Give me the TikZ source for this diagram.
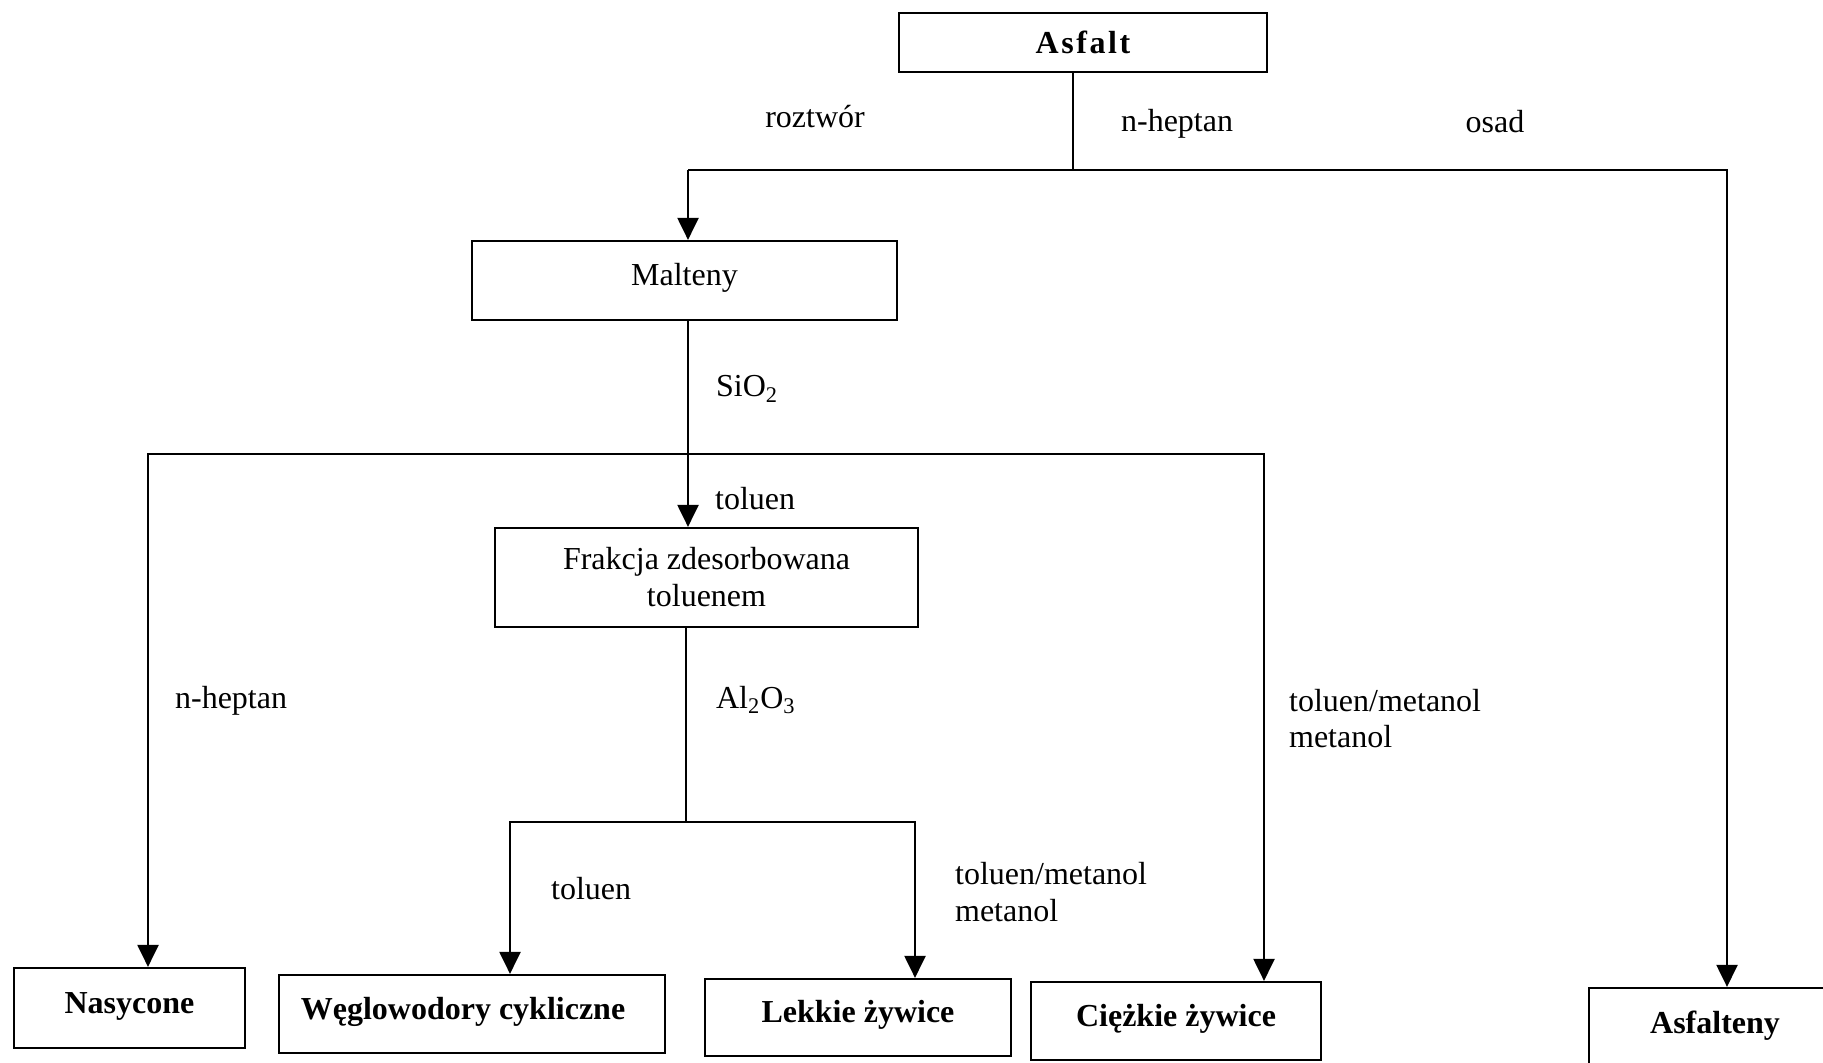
\documentclass[tikz,border=0pt]{standalone}
\usepackage{fontspec}
\setmainfont{Liberation Serif}
\usetikzlibrary{arrows.meta}
\begin{document}
\begin{tikzpicture}[x=0.5pt,y=-0.5pt,
  font=\fontsize{16pt}{18.5pt}\selectfont,
  line width=1.1pt,
  box/.style={draw, inner sep=0pt, text height=11pt, text depth=6pt},
  mbox/.style={draw, inner sep=0pt, align=center},
  lbl/.style={inner sep=0pt, anchor=base west},
  arr/.style={-{Triangle[width=10.5pt,length=11pt]}}]
\useasboundingbox (0,0) rectangle (1823,1063);
\clip (0,0) rectangle (1823,1063);

% boxes
\node[box, text depth=0pt, minimum width=184pt, minimum height=29.5pt] (asfalt) at (1083,42.5)
  {\bfseries\addfontfeature{LetterSpace=8}Asfalt};
\node[box, minimum width=212.5pt, minimum height=39.5pt] (malteny) at (684.5,280.5) {Malteny};
\node[mbox, minimum width=211.5pt, minimum height=49.5pt] (frakcja) at (706.5,577.5)
  {Frakcja zdesorbowana\\toluenem};
\node[box, minimum width=115.5pt, minimum height=40pt] (nasycone) at (129.5,1008) {\bfseries Nasycone};
\node[box, minimum width=193pt, minimum height=39pt] (wegl) at (472,1014) {\bfseries Węglowodory cykliczne\hspace*{9pt}};
\node[box, minimum width=153pt, minimum height=38.5pt] (lekkie) at (858,1017.5) {\bfseries Lekkie żywice};
\node[box, minimum width=145pt, minimum height=39pt] (ciezkie) at (1176,1021) {\bfseries Ciężkie żywice};
\node[box, minimum width=126pt, minimum height=40pt] (asfalteny) at (1715,1028) {\bfseries Asfalteny};

% level 1
\coordinate (j1) at (1073,170);
\coordinate (jL) at (688,170);
\coordinate (jR) at (1727,170);
\draw (asfalt.south -| j1) -- (j1);
\draw[arr] (jL) -- (jR) -- (asfalteny.north -| jR);
\draw[arr] (jL) -- (malteny.north -| jL);

% level 2
\coordinate (k0) at (688,454);
\coordinate (kL) at (148,454);
\coordinate (kR) at (1264,454);
\draw (malteny.south -| k0) -- (k0);
\draw[arr] (k0) -- (frakcja.north -| k0);
\draw[arr] (k0) -- (kL) -- (nasycone.north -| kL);
\draw[arr] (k0) -- (kR) -- (ciezkie.north -| kR);

% level 3
\coordinate (m0) at (686,822);
\coordinate (mL) at (510,822);
\coordinate (mR) at (915,822);
\draw (frakcja.south -| m0) -- (m0);
\draw[arr] (m0) -- (mL) -- (wegl.north -| mL);
\draw[arr] (m0) -- (mR) -- (lekkie.north -| mR);

% labels
\node[inner sep=0pt, anchor=base] (l1) at (815,128) {roztwór};
\node[lbl] (l2) at (1120,132) {n-heptan};
\node[inner sep=0pt, anchor=base] (l3) at (1495,133) {osad};
\node[lbl] (l4) at (715,397) {SiO\textsubscript{2}};
\node[lbl] (l5) at (714,509) {toluen};
\node[lbl] (l6) at (174,708) {n-heptan};
\node[lbl] (l7) at (715,708) {Al\textsubscript{2}O\textsubscript{3}};
\node[lbl] (l8) at (1288,711) {toluen/metanol};
\node[lbl] (l9) at (1288,747) {metanol};
\node[lbl] (l10) at (550,899) {toluen};
\node[lbl] (l11) at (954,884) {toluen/metanol};
\node[lbl] (l12) at (954,921) {metanol};
\end{tikzpicture}
\end{document}
